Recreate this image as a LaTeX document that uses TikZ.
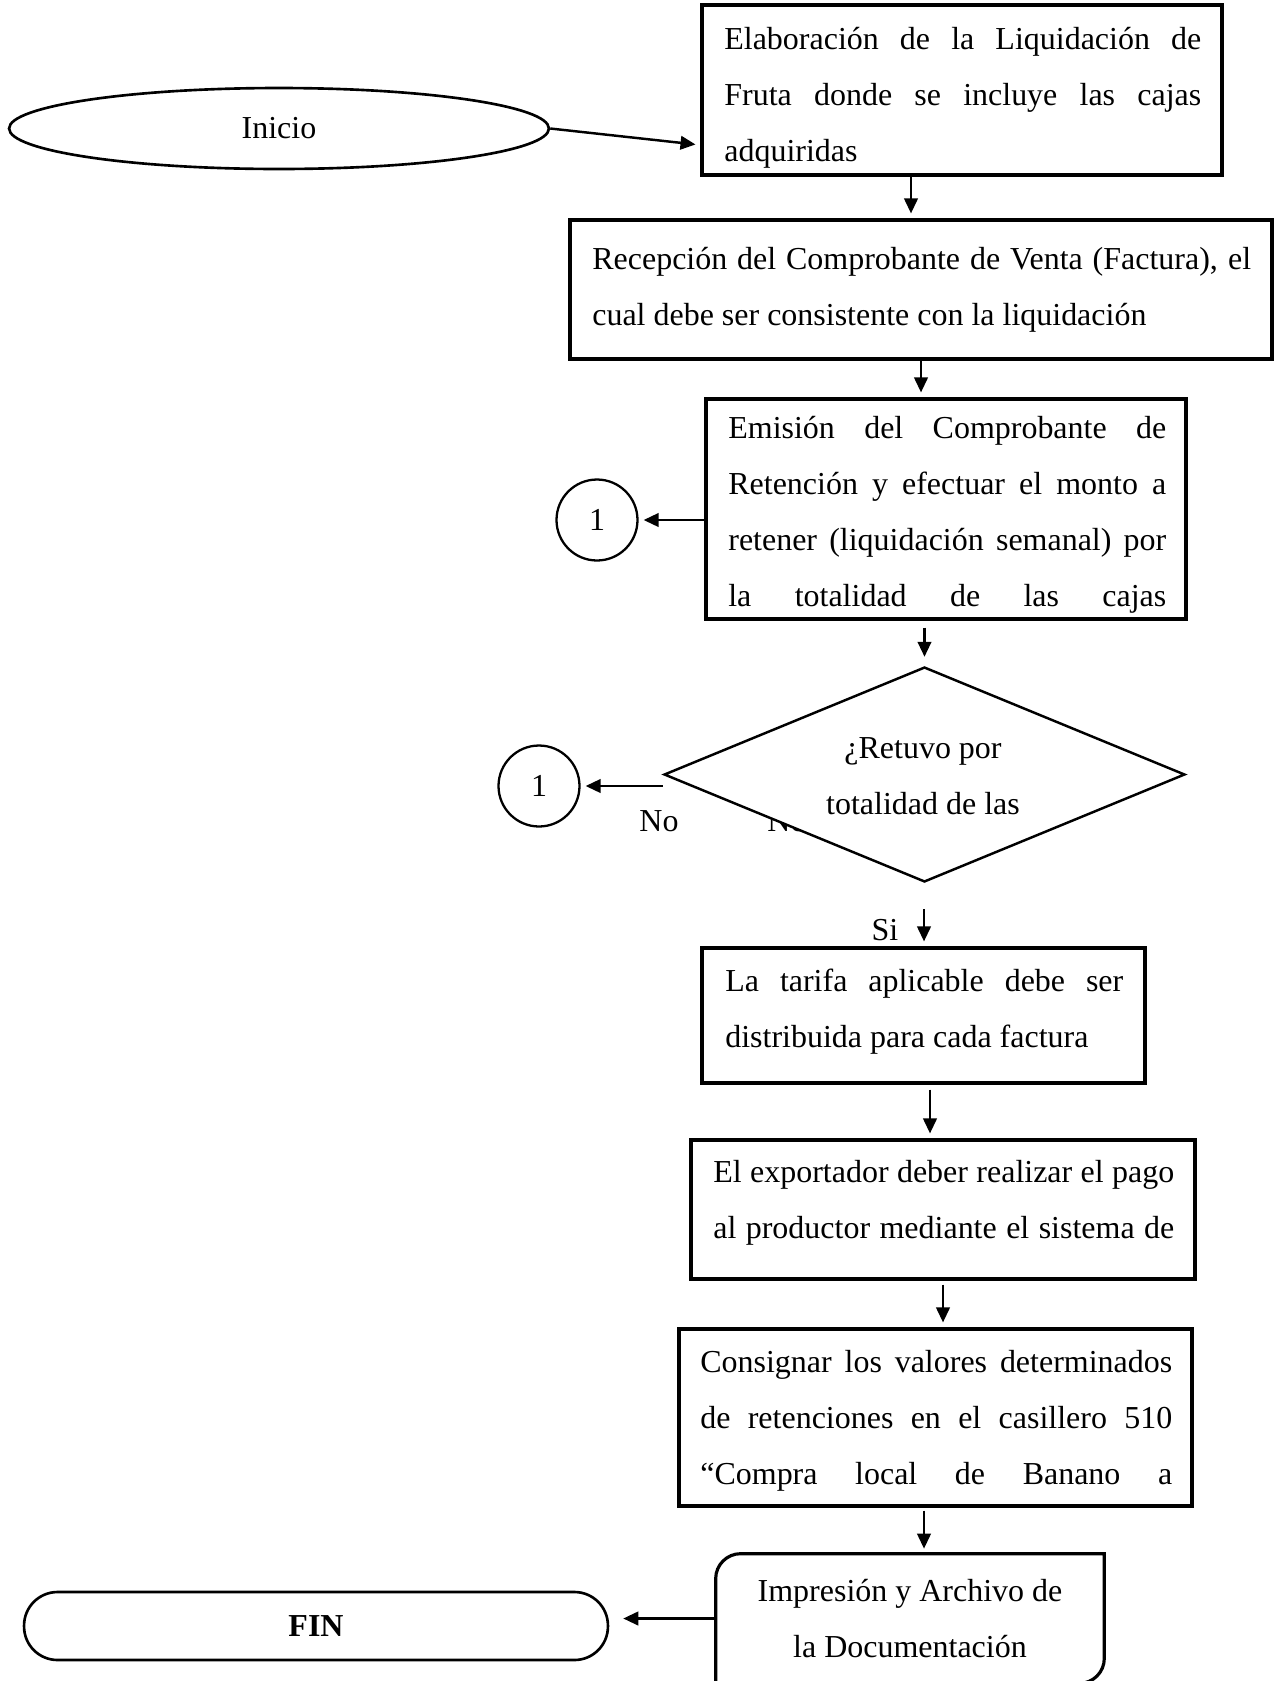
\documentclass[tikz,border=0pt]{standalone}
\usepackage{fontspec}
\setmainfont{Liberation Serif}
\usetikzlibrary{shapes.geometric,arrows.meta,calc}

\begin{document}
\begin{tikzpicture}[x=0.02cm, y=-0.02cm,
    font=\fontsize{18.2}{31.9}\selectfont,
    procbox/.style={draw, line width=1.8pt, inner sep=0pt},
    txt/.style={anchor=base west, inner sep=0pt, align=justify,
      execute at begin node={\tolerance=9999\relax}},
    conn/.style={draw, circle, line width=1.3pt, minimum size=1.62cm, inner sep=0pt},
    arr/.style={line width=1.4pt, -{Triangle[length=0.3cm,width=0.27cm]}, shorten >=0.1cm},
    lbl/.style={inner sep=0pt}]
  \useasboundingbox (0,0) rectangle (1280,1681);

  % start
  \node[draw, ellipse, line width=1.5pt, inner sep=0pt,
    minimum width=10.8cm, minimum height=1.62cm] (ini) at (279,128.5) {Inicio};

  % boxes
  \node[procbox, minimum width=10.4cm, minimum height=3.4cm] (b1) at (962,90) {};
  \node[txt, text width=9.54cm] (t1) at (724,49)
    {Elaboración de la Liquidación de\linebreak Fruta donde se incluye las cajas\linebreak adquiridas};

  \node[procbox, minimum width=14.04cm, minimum height=2.78cm] (b2) at (921,289.5) {};
  \node[txt, text width=13.18cm] (t2) at (592,269)
    {Recepción del Comprobante de Venta (Factura), el\linebreak cual debe ser consistente con la liquidación};

  \node[procbox, minimum width=9.6cm, minimum height=4.4cm] (b3) at (946,509) {};
  \node[txt, text width=8.76cm] (t3) at (728,438)
    {\parfillskip=0pt Emisión del Comprobante de\linebreak Retención y efectuar el monto a\linebreak retener (liquidación semanal) por\linebreak la totalidad de las cajas\par};

  \node[conn] (c1a) at (597,520) {1};

  % decision
  \node[lbl] (no1) at (659,821) {No};
  \node[lbl] (no2) at (787,821) {No};
  \node[draw, diamond, fill=white, line width=1.4pt, inner sep=0pt,
    minimum width=10.42cm, minimum height=4.3cm] (q) at (924.5,774.5) {};
  \node[lbl, align=center] (qt) at (923,776) {¿Retuvo por\\totalidad de las};
  \node[conn] (c1b) at (539,786) {1};
  \node[lbl] (si) at (885,930) {Si};
  \coordinate (s) at (924,909);

  \node[procbox, minimum width=8.86cm, minimum height=2.7cm] (b4) at (923.5,1015.5) {};
  \node[txt, text width=7.96cm] (t4) at (725,991)
    {La tarifa aplicable debe ser\linebreak distribuida para cada factura};

  \node[procbox, minimum width=10.08cm, minimum height=2.78cm] (b5) at (943,1209.5) {};
  \node[txt, text width=9.22cm] (t5) at (713,1182)
    {\parfillskip=0pt El exportador deber realizar el pago\linebreak al productor mediante el sistema de\par};

  \node[procbox, minimum width=10.26cm, minimum height=3.54cm] (b6) at (935.5,1417.5) {};
  \node[txt, text width=9.44cm] (t6) at (700,1372)
    {\parfillskip=0pt Consignar los valores determinados\linebreak de retenciones en el casillero 510\linebreak “Compra local de Banano a\par};

  % end
  \node[inner sep=0pt, align=center, minimum width=7.76cm, minimum height=2.58cm] (b7) at (910,1618.5)
    {Impresión y Archivo de\\la Documentación};
  \draw[line width=1.8pt] (b7.south west) -- ([yshift=-0.5cm]b7.north west)
    arc[start angle=180, end angle=90, radius=0.5cm] -- (b7.north east)
    -- ([yshift=0.5cm]b7.south east) arc[start angle=0, end angle=-90, radius=0.5cm] -- cycle;
  \node[draw, rounded corners=0.67cm, line width=1.5pt, inner sep=0pt,
    minimum width=11.68cm, minimum height=1.36cm, font=\fontsize{18.2}{31.9}\selectfont\bfseries] (fin) at (316,1626) {FIN};

  % arrows
  \draw[arr] (ini.east) -- ($(b1.west)+(0,55)$);
  \draw[arr] ($(b1.south)+(-51,0)$) -- ($(b1.south |- b2.north)+(-51,0)$);
  \draw[arr] (b2.south) -- (b2.south |- b3.north);
  \draw[arr] (b3.west |- c1a) -- (c1a);
  \draw[arr, shorten <=0.14cm, shorten >=0.18cm] (b3.south -| q.north) -- (q.north);
  \draw[arr] (q.west |- c1b) -- (c1b);
  \draw[arr] (s) -- (s |- b4.north);
  \draw[arr] ($(b4.south)+(6.5,5)$) -- ($(b4.south |- b5.north)+(6.5,0)$);
  \draw[arr] ($(b5.south)+(0,4)$) -- (b5.south |- b6.north);
  \draw[arr] ($(b6.south)+(-11.5,3)$) -- ($(b6.south |- b7.north)+(-11.5,0)$);
  \draw[arr, shorten >=0.28cm] (b7.west) -- (b7.west -| fin.east);
\end{tikzpicture}
\end{document}
